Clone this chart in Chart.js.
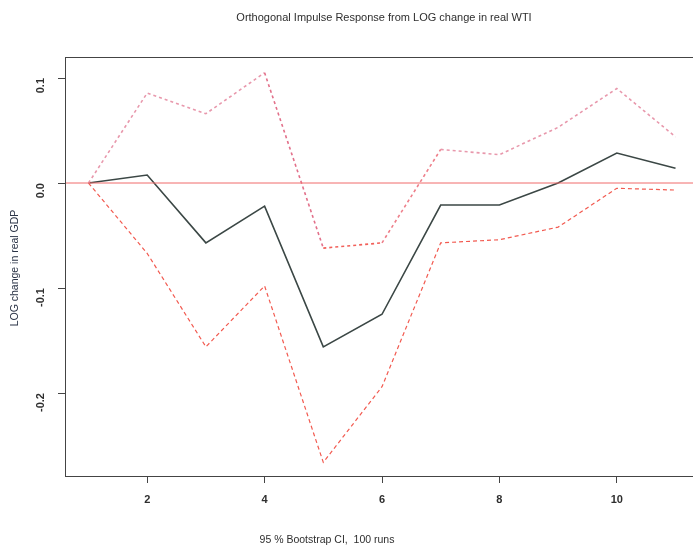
<!DOCTYPE html>
<html>
<head>
<meta charset="utf-8">
<script src="https://cdn.jsdelivr.net/npm/chart.js@4.4.1/dist/chart.umd.min.js"></script>
<style>
  html, body { margin: 0; padding: 0; background: #fff; overflow: hidden; }
  #wrap { width: 710px; height: 549px; }
</style>
</head>
<body>
<div id="wrap"><canvas id="irf"></canvas></div>
<script>
// horizon steps
const steps = [1, 2, 3, 4, 5, 6, 7, 8, 9, 10, 11];
// orthogonal impulse response
const response = [0, 0.0076, -0.057, -0.022, -0.156, -0.125, -0.021, -0.021, 0.0, 0.0286, 0.014];
// 95% bootstrap bands
const upperBand = [0, 0.0857, 0.066, 0.105, -0.062, -0.057, 0.032, 0.027, 0.053, 0.090, 0.044];
const lowerBand = [0, -0.067, -0.156, -0.098, -0.266, -0.194, -0.057, -0.054, -0.042, -0.005, -0.0067];
const yTicks = [0.1, 0.0, -0.1, -0.2];
const xTicks = [2, 4, 6, 8, 10];

const toPts = (ys) => steps.map((x, i) => ({ x: x, y: ys[i] }));

const FONT = "'Liberation Sans', Arial, sans-serif";

const frameAndText = {
  id: 'frameAndText',
  afterDraw(chart) {
    const { ctx, chartArea: a } = chart;
    ctx.save();
    ctx.strokeStyle = '#444';
    ctx.lineWidth = 1;
    ctx.strokeRect(a.left + 0.5, a.top + 0.5, a.right - a.left, a.bottom - a.top);

    ctx.fillStyle = '#2e2e2e';
    ctx.textAlign = 'center';
    ctx.textBaseline = 'middle';
    ctx.font = '11px ' + FONT;
    ctx.fillText('Orthogonal Impulse Response from LOG change in real WTI', 384, 18);
    ctx.font = '10.5px ' + FONT;
    ctx.fillText('95 % Bootstrap CI,  100 runs', 327, 540);

    ctx.fillStyle = '#2a3346';
    ctx.translate(15, 268);
    ctx.rotate(-Math.PI / 2);
    ctx.font = '10.5px ' + FONT;
    ctx.fillText('LOG change in real GDP', 0, 0);
    ctx.restore();
  }
};

new Chart(document.getElementById('irf'), {
  type: 'line',
  data: {
    datasets: [
      {
        label: 'zero',
        data: [{ x: 0.6, y: 0 }, { x: 11.4, y: 0 }],
        borderColor: '#f06a6a',
        borderWidth: 1,
        pointRadius: 0
      },
      {
        label: 'upper',
        data: toPts(upperBand),
        borderColor: '#e898ac',
        borderWidth: 1.6,
        borderDash: [3, 3],
        pointRadius: 0,
        segment: {
          borderColor: (c) => (c.p0.parsed.y < 0 && c.p1.parsed.y < 0) ? '#f2605a'
            : (c.p1.parsed.y < 0 ? '#e2708a' : (c.p0.parsed.y < 0 ? '#ee7f8a' : '#e898ac'))
        }
      },
      {
        label: 'lower',
        data: toPts(lowerBand),
        borderColor: '#f25a50',
        borderWidth: 1.2,
        borderDash: [4, 3],
        pointRadius: 0
      },
      {
        label: 'response',
        data: toPts(response),
        borderColor: '#3b4745',
        borderWidth: 1.6,
        pointRadius: 0
      }
    ]
  },
  options: {
    responsive: true,
    maintainAspectRatio: false,
    animation: false,
    layout: { padding: { top: 57, right: 11, left: 0, bottom: 0 } },
    plugins: { legend: { display: false }, tooltip: { enabled: false } },
    scales: {
      x: {
        type: 'linear',
        min: 0.6,
        max: 11.4,
        afterBuildTicks: (s) => { s.ticks = xTicks.map(v => ({ value: v })); },
        afterFit: (s) => { s.height = 73; },
        grid: { drawOnChartArea: false, tickLength: 7, color: '#444' },
        border: { display: false },
        ticks: { color: '#2e2e2e', font: { family: FONT, size: 11, weight: 'bold' }, padding: 10, maxRotation: 0 }
      },
      y: {
        min: -0.279,
        max: 0.12,
        afterBuildTicks: (s) => { s.ticks = yTicks.map(v => ({ value: v })); },
        afterFit: (s) => { s.width = 65; },
        grid: { drawOnChartArea: false, tickLength: 7, color: '#444' },
        border: { display: false },
        ticks: {
          color: '#2e2e2e',
          font: { family: FONT, size: 11, weight: 'bold' },
          padding: 17,
          minRotation: 90,
          maxRotation: 90,
          callback: (v) => v.toFixed(1)
        }
      }
    }
  },
  plugins: [frameAndText]
});
</script>
</body>
</html>
